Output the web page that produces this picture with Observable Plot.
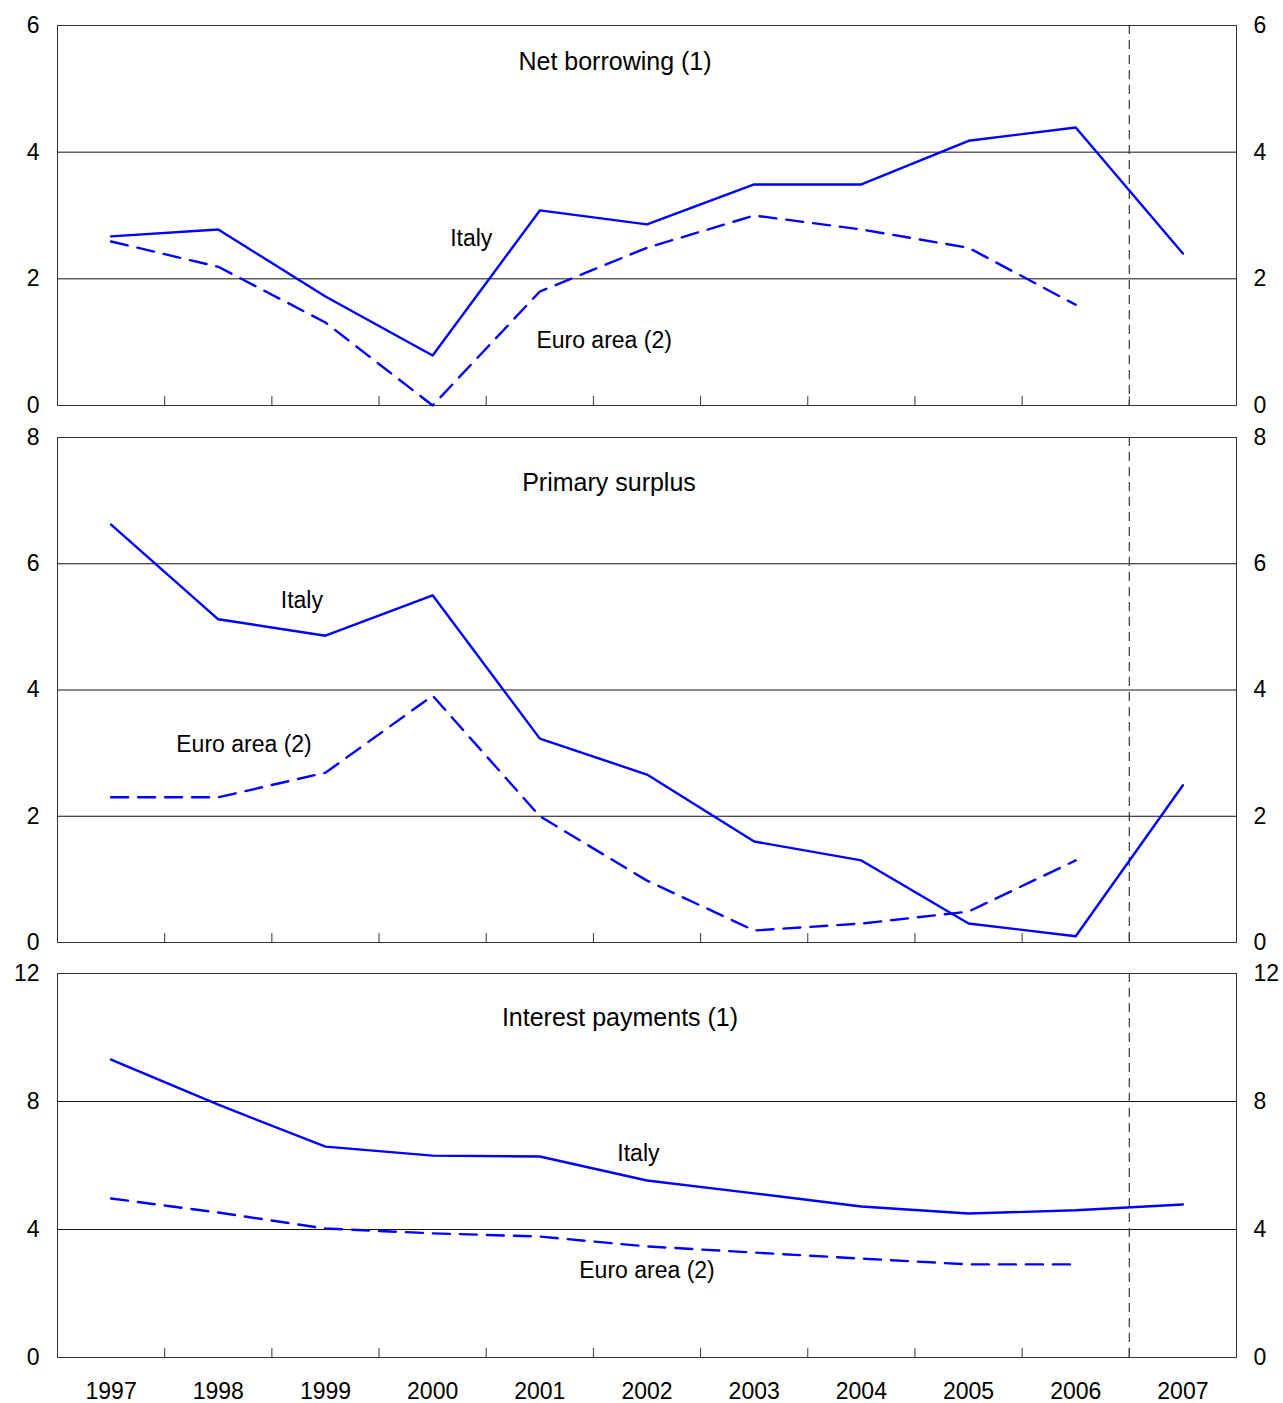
<!DOCTYPE html>
<html>
<head>
<meta charset="utf-8">
<script src="https://cdn.jsdelivr.net/npm/d3@7"></script>
<script src="https://cdn.jsdelivr.net/npm/@observablehq/plot@0.6"></script>
<style>
  html, body { margin: 0; padding: 0; background: #fff; }
  #chart { width: 1283px; height: 1403px; position: relative; }
  #chart svg { display: block; font-family: "Liberation Sans", Arial, sans-serif; }
</style>
</head>
<body>
<div id="chart"></div>
<script>
const years = [1997, 1998, 1999, 2000, 2001, 2002, 2003, 2004, 2005, 2006, 2007];
const euroYears = [1997, 1998, 1999, 2000, 2001, 2002, 2003, 2004, 2005, 2006];

// Net borrowing (1)
const netBorrowingItaly = [2.67, 2.78, 1.72, 0.79, 3.08, 2.86, 3.49, 3.49, 4.18, 4.39, 2.4];
const netBorrowingEuro  = [2.59, 2.19, 1.31, 0.0, 1.8, 2.49, 3.0, 2.78, 2.49, 1.59];
// Primary surplus
const primarySurplusItaly = [6.62, 5.12, 4.86, 5.5, 3.23, 2.66, 1.6, 1.3, 0.3, 0.1, 2.49];
const primarySurplusEuro  = [2.3, 2.3, 2.69, 3.91, 2.0, 0.98, 0.19, 0.3, 0.49, 1.3];
// Interest payments (1)
const interestItaly = [9.31, 7.9, 6.59, 6.31, 6.28, 5.53, 5.13, 4.72, 4.5, 4.6, 4.78];
const interestEuro  = [4.97, 4.53, 4.03, 3.88, 3.78, 3.47, 3.28, 3.09, 2.91, 2.91];

const panelTitles = ["Net borrowing (1)", "Primary surplus", "Interest payments (1)"];
const seriesNames = ["Italy", "Euro area (2)"];
const yTicks1 = [0, 2, 4, 6];
const yTicks2 = [0, 2, 4, 6, 8];
const yTicks3 = [0, 4, 8, 12];
const forecastBoundary = 2006.5;

// label anchor positions (in data units)
const labels1 = [{t: seriesNames[0], x: 2000.36, y: 2.64}, {t: seriesNames[1], x: 2001.6, y: 1.03}];
const labels2 = [{t: seriesNames[0], x: 1998.78, y: 5.42}, {t: seriesNames[1], x: 1998.24, y: 3.14}];
const labels3 = [{t: seriesNames[0], x: 2001.92, y: 6.375}, {t: seriesNames[1], x: 2002.0, y: 2.72}];

const BLUE = "#0000ff";
const boundaries = years.slice(0, -1).map(y => y + 0.5);
const tickShape = {draw(ctx, l) { ctx.moveTo(0, 0); ctx.lineTo(0, -l); }};
const FONT = "'Liberation Sans', Arial, sans-serif";

function panel({italy, euro, ticks, title, titleDx, titleDy, labels, marginTop, marginBottom, height, showX}) {
  const dItaly = years.map((yr, i) => ({year: yr, v: italy[i]}));
  const dEuro = euroYears.map((yr, i) => ({year: yr, v: euro[i]}));
  const ymax = ticks[ticks.length - 1];
  const grid = ticks.filter(t => t > 0 && t < ymax);
  const marks = [
    Plot.ruleY(grid, {stroke: "#111", strokeWidth: 1}),
    Plot.ruleX([forecastBoundary], {stroke: "#444", strokeWidth: 1.3, strokeDasharray: "9,6"}),
    Plot.vector(boundaries, {x: d => d, y: 0, length: 9, rotate: 0, anchor: "start", shape: tickShape, stroke: "#333", strokeWidth: 1}),
    Plot.frame({stroke: "#333", strokeWidth: 1}),
    Plot.axisY(ticks, {anchor: "left", tickSize: 0, tickPadding: 18, fontSize: 23, fill: "#000", tickFormat: d3.format("d")}),
    Plot.axisY(ticks, {anchor: "right", tickSize: 0, tickPadding: 17, fontSize: 23, fill: "#000", tickFormat: d3.format("d")}),
    Plot.line(dEuro, {x: "year", y: "v", stroke: BLUE, strokeWidth: 2.4, strokeDasharray: "17,10"}),
    Plot.line(dItaly, {x: "year", y: "v", stroke: BLUE, strokeWidth: 2.4}),
    Plot.text([title], {frameAnchor: "top", dy: titleDy, dx: titleDx, fontSize: 25, fill: "#000"}),
    Plot.text(labels, {x: "x", y: "y", text: "t", fontSize: 23, fill: "#000"})
  ];
  if (showX) {
    marks.push(Plot.axisX(years, {anchor: "bottom", tickSize: 0, tickPadding: 25, fontSize: 23, fill: "#000", tickFormat: d => String(d)}));
  }
  return Plot.plot({
    width: 1283,
    height,
    marginLeft: 57,
    marginRight: 47,
    marginTop,
    marginBottom,
    style: {fontFamily: FONT, background: "#fff"},
    x: {domain: [1996.5, 2007.5], axis: null},
    y: {domain: [0, ymax], axis: null},
    marks
  });
}

const chart = document.getElementById("chart");
chart.appendChild(panel({italy: netBorrowingItaly, euro: netBorrowingEuro, ticks: yTicks1, title: panelTitles[0], titleDx: -32, titleDy: 27, labels: labels1, marginTop: 25, marginBottom: 16, height: 421, showX: false}));
chart.appendChild(panel({italy: primarySurplusItaly, euro: primarySurplusEuro, ticks: yTicks2, title: panelTitles[1], titleDx: -38, titleDy: 36, labels: labels2, marginTop: 16, marginBottom: 15, height: 536, showX: false}));
chart.appendChild(panel({italy: interestItaly, euro: interestEuro, ticks: yTicks3, title: panelTitles[2], titleDx: -27, titleDy: 35, labels: labels3, marginTop: 16, marginBottom: 46, height: 446, showX: true}));
</script>
</body>
</html>
